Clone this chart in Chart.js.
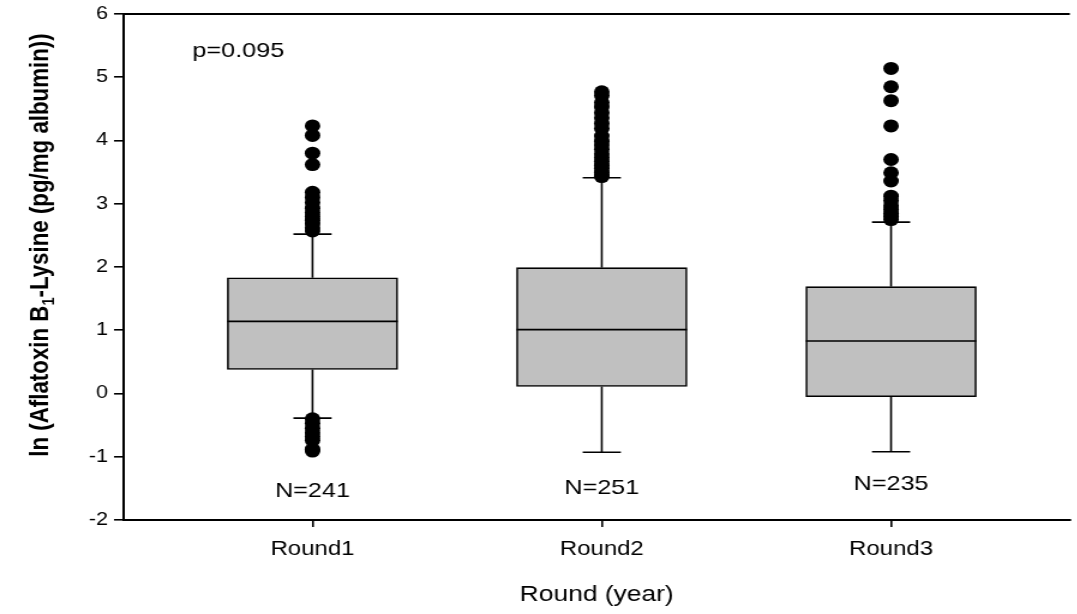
<!DOCTYPE html>
<html>
<head>
<meta charset="utf-8">
<script src="https://cdn.jsdelivr.net/npm/chart.js@4.4.1/dist/chart.umd.min.js"></script>
<style>
    html, body { margin: 0; padding: 0; background: #fff; overflow: hidden; }
    /* the original figure is stretched sideways, so draw narrow and stretch */
    #wrap { width: 898px; height: 614px; transform: scaleX(1.2); transform-origin: 0 0; }
</style>
</head>
<body>
<div id="wrap"><canvas id="boxChart"></canvas></div>
<script>
const rounds = ['Round1', 'Round2', 'Round3'];
const roundPos = [1, 2, 3];
const sampleSizes = ['N=241', 'N=251', 'N=235'];

const q1 = [0.38, 0.11, -0.05];
const medians = [1.14, 1.01, 0.83];
const q3 = [1.83, 1.99, 1.69];
const whiskerLow = [-0.39, -0.93, -0.92];
const whiskerHigh = [2.52, 3.41, 2.71];

const outliersRound1 = [4.23, 4.08, 3.80, 3.62, 3.18, 3.10, 3.02, 2.93, 2.86, 2.80, 2.74, 2.68, 2.62, 2.57,
    -0.40, -0.47, -0.55, -0.62, -0.68, -0.74, -0.88, -0.91];
const outliersRound2 = [4.77, 4.71, 4.60, 4.53, 4.44, 4.36, 4.27, 4.19, 4.07, 3.99, 3.93, 3.86, 3.79,
    3.73, 3.67, 3.61, 3.56, 3.50, 3.46, 3.43];
const outliersRound3 = [5.14, 4.85, 4.63, 4.23, 3.70, 3.49, 3.36, 3.12, 3.05, 2.97, 2.91, 2.85, 2.80, 2.75];

const pValueText = 'p=0.095';


function outlierPoints(pos, values) {
    return values.map(v => ({x: pos, y: v}));
}

function line(ctx, x1, y1, x2, y2) {
    ctx.beginPath();
    ctx.moveTo(x1, y1);
    ctx.lineTo(x2, y2);
    ctx.stroke();
}

const boxParts = {
    id: 'boxParts',
    beforeDatasetsDraw(chart) {
        const {ctx, scales: {x, y}} = chart;
        ctx.save();
        ctx.strokeStyle = '#000';
        ctx.lineWidth = 1.6;
        roundPos.forEach((pos, i) => {
            const cx = x.getPixelForValue(pos);
            const capHalf = x.getPixelForValue(pos + 0.066) - cx;
            line(ctx, cx, y.getPixelForValue(q3[i]), cx, y.getPixelForValue(whiskerHigh[i]));
            line(ctx, cx - capHalf, y.getPixelForValue(whiskerHigh[i]), cx + capHalf, y.getPixelForValue(whiskerHigh[i]));
            line(ctx, cx, y.getPixelForValue(q1[i]), cx, y.getPixelForValue(whiskerLow[i]));
            line(ctx, cx - capHalf, y.getPixelForValue(whiskerLow[i]), cx + capHalf, y.getPixelForValue(whiskerLow[i]));
        });
        ctx.restore();
    },
    afterDatasetsDraw(chart) {
        const {ctx, chartArea, scales: {x, y}} = chart;
        const bars = chart.getDatasetMeta(0).data;
        ctx.save();
        ctx.strokeStyle = '#000';
        ctx.lineWidth = 1.6;
        roundPos.forEach((pos, i) => {
            const cx = x.getPixelForValue(pos);
            const half = bars[i].width / 2;
            line(ctx, cx - half, y.getPixelForValue(medians[i]), cx + half, y.getPixelForValue(medians[i]));
        });

        // top frame line
        ctx.lineWidth = 2;
        line(ctx, chartArea.left, chartArea.top, chartArea.right, chartArea.top);

        ctx.fillStyle = '#000';
        ctx.font = '21px "Liberation Sans", Arial, sans-serif';
        ctx.textBaseline = 'middle';
        ctx.textAlign = 'left';
        ctx.fillText(pValueText, x.getPixelForValue(0.585), y.getPixelForValue(5.41));

        ctx.textAlign = 'center';
        const nLevels = [-1.54, -1.49, -1.44];
        roundPos.forEach((pos, i) => {
            ctx.fillText(sampleSizes[i], x.getPixelForValue(pos), y.getPixelForValue(nLevels[i]));
        });

        // y axis title with subscript
        const mainFont = 'bold 22.3px "Liberation Sans", Arial, sans-serif';
        const subFont = 'bold 14.5px "Liberation Sans", Arial, sans-serif';
        const partA = 'ln (Aflatoxin B';
        const partB = '1';
        const partC = '-Lysine (pg/mg albumin))';
        ctx.font = mainFont;
        const wA = ctx.measureText(partA).width;
        const wC = ctx.measureText(partC).width;
        ctx.font = subFont;
        const wB = ctx.measureText(partB).width;
        const total = wA + wB + wC;
        ctx.translate(33, 245);
        ctx.rotate(-Math.PI / 2);
        ctx.textAlign = 'left';
        ctx.textBaseline = 'alphabetic';
        ctx.font = mainFont;
        ctx.fillText(partA, -total / 2, 7);
        ctx.font = subFont;
        ctx.fillText(partB, -total / 2 + wA, 12);
        ctx.font = mainFont;
        ctx.fillText(partC, -total / 2 + wA + wB, 7);
        ctx.restore();
    }
};

const ctx = document.getElementById('boxChart').getContext('2d');

new Chart(ctx, {
    type: 'bar',
    data: {
        datasets: [{
            type: 'bar',
            data: roundPos.map((pos, i) => ({x: pos, y: [q1[i], q3[i]]})),
            backgroundColor: '#c0c0c0',
            borderColor: '#000',
            borderWidth: 1.6,
            borderSkipped: false,
            barThickness: 142
        }, {
            type: 'scatter',
            data: outlierPoints(1, outliersRound1),
            backgroundColor: '#000',
            borderWidth: 0,
            pointRadius: 6.5
        }, {
            type: 'scatter',
            data: outlierPoints(2, outliersRound2),
            backgroundColor: '#000',
            borderWidth: 0,
            pointRadius: 6.5
        }, {
            type: 'scatter',
            data: outlierPoints(3, outliersRound3),
            backgroundColor: '#000',
            borderWidth: 0,
            pointRadius: 6.5
        }]
    },
    options: {
        responsive: true,
        maintainAspectRatio: false,
        animation: false,
        layout: {padding: {top: 4, right: 0, bottom: 0, left: 0}},
        plugins: {
            legend: {display: false},
            tooltip: {enabled: false}
        },
        scales: {
            x: {
                type: 'linear',
                min: 0.347,
                max: 3.618,
                offset: false,
                afterBuildTicks: scale => {
                    scale.ticks = roundPos.map(v => ({value: v}));
                },
                afterFit: scale => {
                    scale.height = 94;
                },
                ticks: {
                    callback: value => rounds[roundPos.indexOf(value)],
                    color: '#000',
                    font: {family: '"Liberation Sans", Arial, sans-serif', size: 20},
                    padding: 10,
                    maxRotation: 0
                },
                grid: {
                    display: true,
                    offset: false,
                    drawOnChartArea: false,
                    drawTicks: true,
                    tickLength: 7,
                    color: '#000',
                    lineWidth: 1.6
                },
                border: {display: true, color: '#000', width: 2},
                title: {
                    display: true,
                    text: 'Round (year)',
                    color: '#000',
                    font: {family: '"Liberation Sans", Arial, sans-serif', size: 22},
                    padding: {top: 0, bottom: 6}
                }
            },
            y: {
                min: -2,
                max: 6,
                afterFit: scale => {
                    scale.width = 103;
                },
                ticks: {
                    stepSize: 1,
                    color: '#000',
                    font: {family: '"Liberation Sans", Arial, sans-serif', size: 18, lineHeight: 1},
                    padding: 5
                },
                grid: {
                    display: true,
                    drawOnChartArea: false,
                    drawTicks: true,
                    tickLength: 8,
                    color: '#000',
                    lineWidth: 1.6
                },
                border: {display: true, color: '#000', width: 2}
            }
        }
    },
    plugins: [boxParts]
});
</script>
</body>
</html>
